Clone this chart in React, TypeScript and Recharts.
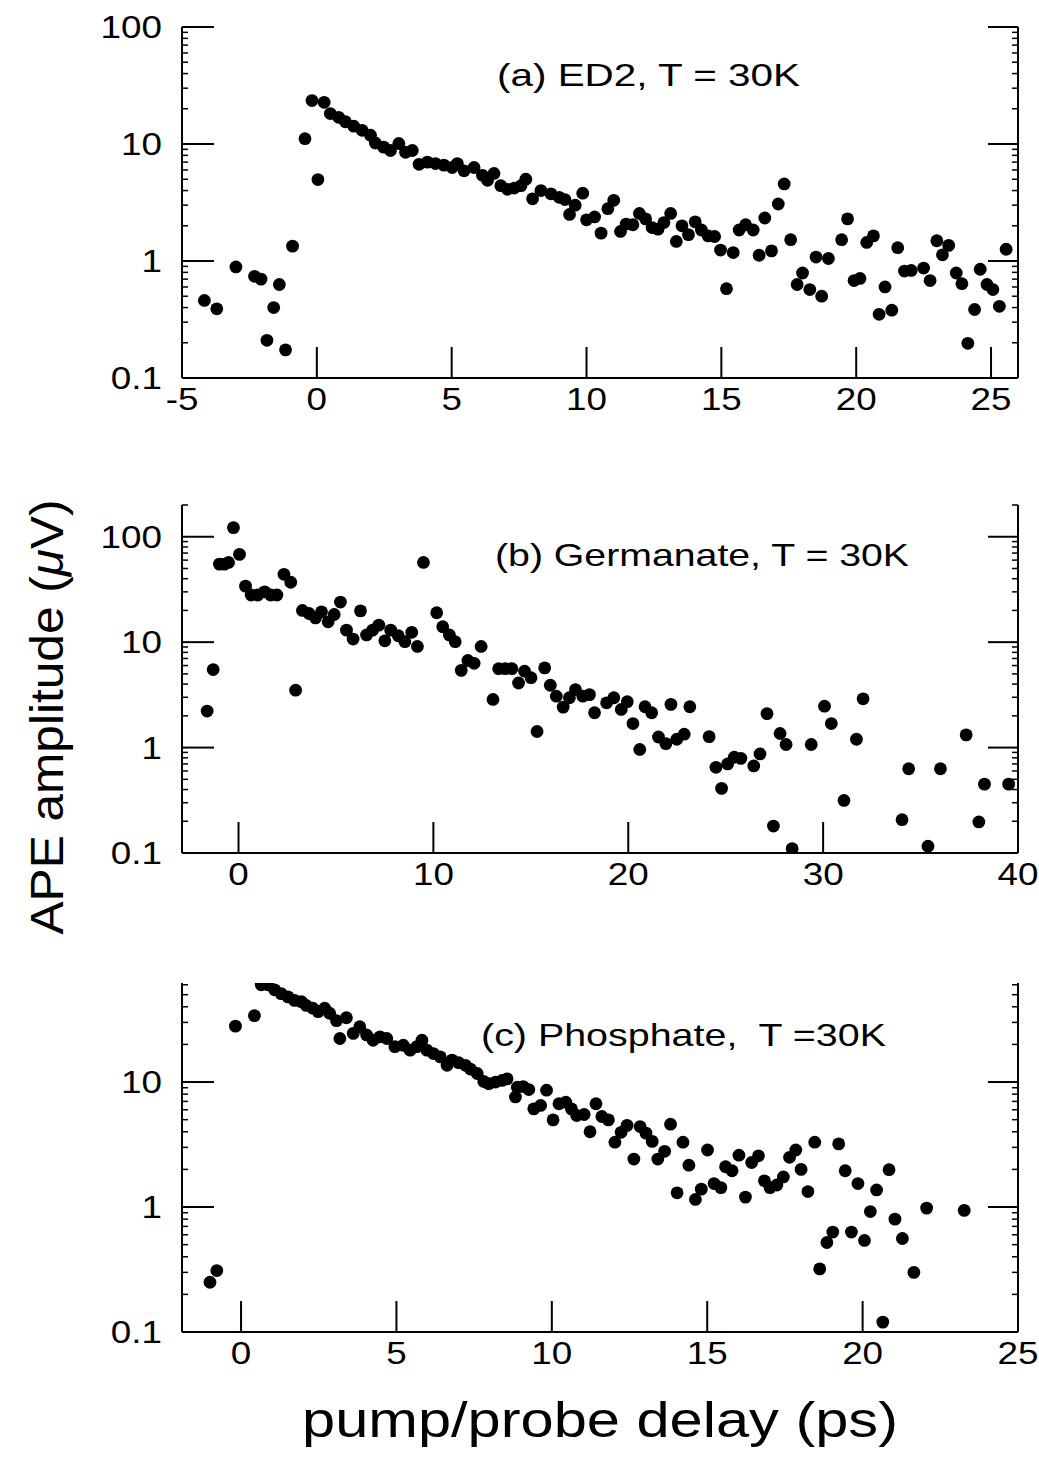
import { Scatter, ScatterChart, XAxis, YAxis } from "recharts";

// (a) ED2, T = 30K
const ed2Delay = [
  -4.17, -3.71, -3.0, -2.31, -2.07, -1.85, -1.6, -1.39, -1.16, -0.9, -0.44, -0.18, 0.04, 0.27,
  0.5, 0.81, 1.06, 1.37, 1.68, 1.99, 2.17, 2.48, 2.73, 3.04, 3.29, 3.54, 3.79, 4.1, 4.4, 4.71,
  5.02, 5.21, 5.46, 5.83, 6.14, 6.33, 6.57, 6.82, 7.07, 7.32, 7.57, 7.75, 8.0, 8.31, 8.68, 8.99,
  9.2, 9.37, 9.58, 9.86, 10.0, 10.3, 10.54, 10.79, 11.01, 11.26, 11.47, 11.72, 11.96, 12.19,
  12.43, 12.65, 12.87, 13.12, 13.33, 13.54, 13.78, 14.03, 14.26, 14.51, 14.75, 14.97, 15.19,
  15.44, 15.66, 15.9, 16.18, 16.4, 16.61, 16.86, 17.11, 17.33, 17.57, 17.81, 18.01, 18.28,
  18.51, 18.72, 18.97, 19.46, 19.68, 19.92, 20.14, 20.39, 20.64, 20.85, 21.07, 21.32, 21.54,
  21.79, 22.04, 22.5, 22.74, 22.99, 23.2, 23.43, 23.71, 23.92, 24.14, 24.39, 24.6, 24.85, 25.07,
  25.31, 25.56,
];
const ed2Amp = [
  0.46, 0.39, 0.89, 0.74, 0.7, 0.21, 0.4, 0.63, 0.174, 1.34, 11.1, 23.5, 4.97, 22.7,
  18.2, 16.9, 15.5, 14.2, 13.1, 11.9, 10.2, 9.4, 8.8, 10.1, 8.5, 8.8, 6.7, 7.0, 6.8, 6.6,
  6.3, 6.8, 5.9, 6.3, 5.4, 4.9, 5.6, 4.4, 4.1, 4.2, 4.4, 5.0, 3.4, 4.0, 3.75, 3.5,
  3.35, 2.5, 3.0, 3.8, 2.25, 2.38, 1.73, 2.8, 3.3, 1.79, 2.07, 2.04, 2.55, 2.29,
  1.93, 1.87, 2.13, 2.55, 1.47, 2.0, 1.68, 2.16, 1.84, 1.64, 1.62, 1.24, 0.58,
  1.18, 1.84, 2.04, 1.84, 1.12, 2.33, 1.22, 3.07, 4.56, 1.52, 0.63, 0.79, 0.57,
  1.08, 0.5, 1.05, 1.52, 2.29, 0.68, 0.71, 1.44, 1.64, 0.35, 0.6, 0.38, 1.3,
  0.82, 0.83, 0.87, 0.68, 1.49, 1.13, 1.36, 0.79, 0.64, 0.198, 0.385, 0.85, 0.63, 0.57,
  0.41, 1.26,
];

// (b) Germanate, T = 30K
const gerDelay = [
  -1.61, -1.3, -0.98, -0.72, -0.51, -0.26, 0.05, 0.36, 0.65, 0.99, 1.34, 1.65, 1.97, 2.33, 2.68,
  2.93, 3.28, 3.62, 3.95, 4.26, 4.6, 4.91, 5.23, 5.54, 5.88, 6.26, 6.57, 6.88, 7.2, 7.51, 7.81,
  8.2, 8.54, 8.89, 9.18, 9.49, 10.17, 10.48, 10.82, 11.12, 11.43, 11.77, 12.09, 12.45, 13.06,
  13.35, 13.69, 14.03, 14.37, 14.68, 15.01, 15.32, 15.71, 16.0, 16.31, 16.66, 16.98, 17.29,
  17.67, 18.01, 18.27, 18.89, 19.26, 19.64, 19.95, 20.24, 20.59, 20.86, 21.2, 21.55, 21.93,
  22.19, 22.49, 22.87, 23.16, 24.15, 24.5, 24.79, 25.1, 25.44, 25.78, 26.44, 26.76, 27.12,
  27.45, 27.79, 28.1, 28.41, 29.39, 30.07, 30.42, 31.07, 31.71, 32.05, 34.05, 34.39, 35.38,
  36.02, 37.34, 37.99, 38.28, 39.52,
];
const gerAmp = [
  2.22, 5.5, 55, 55, 57, 122, 68, 34, 28, 28, 30, 28, 28, 44, 37,
  3.5, 20, 18.7, 17, 19.4, 15.6, 18.3, 24, 13, 10.7, 19.8, 11.7, 13, 14.5, 10.3, 13,
  11.5, 10.1, 12.4, 9.1, 57, 19, 14, 11.7, 10.1, 5.4, 6.7, 6.3, 9.1, 2.86,
  5.6, 5.6, 5.6, 4.1, 5.3, 4.6, 1.42, 5.7, 3.9, 3.07, 2.42, 2.97, 3.55,
  3.07, 3.18, 2.14, 2.66, 2.97, 2.3, 2.72, 1.69, 0.96, 2.44, 2.14, 1.26, 1.09,
  2.57, 1.2, 1.34, 2.44, 1.27, 0.65, 0.41, 0.7, 0.81, 0.79, 0.67, 0.87, 2.1,
  0.18, 1.36, 1.07, 0.11, 1.07, 2.47, 1.69, 0.315, 1.2, 2.9, 0.207, 0.63, 0.116,
  0.63, 1.32, 0.197, 0.45, 0.45,
];

// (c) Phosphate, T = 30K
const phoDelay = [
  -1.0, -0.78, -0.18, 0.43, 0.65, 0.86, 1.08, 1.29, 1.51, 1.72, 1.94, 2.1, 2.31, 2.48, 2.69,
  2.85, 3.07, 3.18, 3.39, 3.61, 3.82, 4.04, 4.25, 4.47, 4.69, 4.95, 5.22, 5.44, 5.66, 5.82,
  5.98, 6.19, 6.41, 6.63, 6.79, 7.0, 7.22, 7.38, 7.6, 7.81, 7.97, 8.19, 8.4, 8.56, 8.83, 8.89,
  9.08, 9.26, 9.42, 9.64, 9.83, 10.04, 10.23, 10.45, 10.63, 10.8, 11.04, 11.23, 11.42, 11.61,
  11.82, 12.03, 12.23, 12.42, 12.64, 12.84, 13.03, 13.23, 13.41, 13.63, 13.82, 14.03, 14.22,
  14.41, 14.62, 14.81, 15.01, 15.22, 15.44, 15.59, 15.8, 16.02, 16.23, 16.43, 16.65, 16.84,
  17.02, 17.24, 17.45, 17.65, 17.85, 18.02, 18.24, 18.46, 18.62, 18.85, 19.04, 19.23, 19.44,
  19.64, 19.85, 20.06, 20.25, 20.45, 20.65, 20.85, 21.04, 21.28, 21.65, 22.06, 23.27,
];
const phoAmp = [
  0.25, 0.31, 28, 34, 60, 60, 54.7, 51, 48, 45, 44, 41, 39, 36.6, 39,
  35.5, 31, 22.3, 32.7, 24.5, 27.7, 23.8, 21.6, 23, 22.3, 19.2, 19.7, 18, 19.2, 21.6,
  18, 16.9, 15.9, 13.6, 15, 14.3, 13.6, 12.7, 11.7, 10.1, 9.7, 10, 10.3, 10.6, 7.6, 9.1,
  9.2, 8.7, 6.1, 6.5, 8.6, 4.98, 6.7, 6.9, 6.1, 5.4, 5.5, 4.0, 6.7, 5.3,
  4.98, 3.3, 3.96, 4.5, 2.42, 4.4, 3.9, 3.35, 2.42, 2.79, 4.6, 1.3, 3.3,
  2.16, 1.15, 1.39, 2.86, 1.54, 1.43, 2.1, 1.95, 2.6, 1.2, 2.27, 2.57, 1.62,
  1.43, 1.5, 1.74, 2.5, 2.86, 2.0, 1.33, 3.3, 0.32, 0.52, 0.63, 3.2, 1.95,
  0.63, 1.54, 0.54, 0.92, 1.37, 0.12, 1.99, 0.8, 0.56, 0.3, 0.98, 0.94,
];

const ed2Ticks = [-5, 0, 5, 10, 15, 20, 25];
const gerTicks = [0, 10, 20, 30, 40];
const phoTicks = [0, 5, 10, 15, 20, 25];

const logTicksA = [
  0.1, 0.2, 0.3, 0.4, 0.5, 0.6, 0.7, 0.8, 0.9, 1, 2, 3, 4, 5, 6, 7, 8, 9, 10, 20, 30, 40, 50, 60,
  70, 80, 90, 100,
];
const logTicksB = [...logTicksA, 200];
const logTicksC = [
  0.1, 0.2, 0.3, 0.4, 0.5, 0.6, 0.7, 0.8, 0.9, 1, 2, 3, 4, 5, 6, 7, 8, 9, 10, 20, 30, 40, 50, 60,
];

const FONT = "'Liberation Sans', Arial, Helvetica, sans-serif";
const W = 1039;
const LEFT = 182;
const RIGHT = 1018;
const PAD_TOP = 20;
const AXIS_H = 60;

const isDecade = (v: number) => Math.abs(Math.log10(v) - Math.round(Math.log10(v))) < 1e-6;

const bottomTick = (p: any) => (
  <g>
    <line x1={p.x} x2={p.x} y1={p.y} y2={p.y - 31} stroke="#000" strokeWidth={2} />
    <text
      transform={`translate(${p.x},${p.y + 32}) scale(1.15,1)`}
      textAnchor="middle"
      fontSize={32}
      fontFamily={FONT}
      fill="#000"
    >
      {p.payload.value}
    </text>
  </g>
);

const leftTick = (p: any) => {
  const major = isDecade(p.payload.value);
  return (
    <g>
      <line x1={p.x} x2={p.x + (major ? 32 : 6)} y1={p.y} y2={p.y} stroke="#000" strokeWidth={major ? 2 : 1.5} />
      {major && (
        <text
          transform={`translate(${p.x - 20},${p.y + 11}) scale(1.15,1)`}
          textAnchor="end"
          fontSize={32}
          fontFamily={FONT}
          fill="#000"
        >
          {String(p.payload.value)}
        </text>
      )}
    </g>
  );
};

const rightTick = (p: any) => {
  const major = isDecade(p.payload.value);
  return (
    <line x1={p.x} x2={p.x - (major ? 30 : 6)} y1={p.y} y2={p.y} stroke="#000" strokeWidth={major ? 2 : 1.5} />
  );
};

const dot = (p: any) => <circle cx={p.cx} cy={p.cy} r={6.4} fill="#000" />;

type PanelProps = {
  xs: number[];
  ys: number[];
  plotTop: number;
  plotBottom: number;
  xDomain: [number, number];
  yDomain: [number, number];
  xTicks: number[];
  yTicks: number[];
};

const Panel = ({ xs, ys, plotTop, plotBottom, xDomain, yDomain, xTicks, yTicks }: PanelProps) => {
  const data = xs.map((x, i) => ({ x, y: ys[i] }));
  const h = PAD_TOP + (plotBottom - plotTop) + AXIS_H;
  const frame = { stroke: "#000", strokeWidth: 2 };
  return (
    <div style={{ position: "absolute", left: 0, top: plotTop - PAD_TOP }}>
      <ScatterChart width={W} height={h} margin={{ top: PAD_TOP, right: 0, bottom: 0, left: 0 }}>
        <XAxis
          xAxisId="b"
          dataKey="x"
          type="number"
          domain={xDomain}
          ticks={xTicks}
          interval={0}
          allowDataOverflow
          height={AXIS_H}
          tickSize={0}
          tickMargin={0}
          tickLine={false}
          axisLine={frame}
          tick={bottomTick}
        />
        <XAxis
          xAxisId="t"
          orientation="top"
          type="number"
          domain={xDomain}
          allowDataOverflow
          height={0}
          tick={false}
          tickLine={false}
          axisLine={frame}
        />
        <YAxis
          yAxisId="l"
          dataKey="y"
          type="number"
          scale="log"
          domain={yDomain}
          ticks={yTicks}
          interval={0}
          allowDataOverflow
          width={LEFT}
          tickSize={0}
          tickMargin={0}
          tickLine={false}
          axisLine={frame}
          tick={leftTick}
        />
        <YAxis
          yAxisId="r"
          orientation="right"
          type="number"
          scale="log"
          domain={yDomain}
          ticks={yTicks}
          interval={0}
          allowDataOverflow
          width={W - RIGHT}
          tickSize={0}
          tickMargin={0}
          tickLine={false}
          axisLine={frame}
          tick={rightTick}
        />
        <Scatter xAxisId="b" yAxisId="l" data={data} isAnimationActive={false} shape={dot} />
      </ScatterChart>
    </div>
  );
};

const PanelTitle = ({ x, y, width, children }: { x: number; y: number; width: number; children: string }) => (
  <text
    x={x}
    y={y}
    fontSize={32}
    fontFamily={FONT}
    textLength={width}
    lengthAdjust="spacingAndGlyphs"
    fill="#000"
    style={{ whiteSpace: "pre" }}
  >
    {children}
  </text>
);

const App = () => {
  return (
    <div style={{ position: "absolute", left: 0, top: 0, width: W, height: 1473, background: "#fff" }}>
      <Panel
        xs={ed2Delay}
        ys={ed2Amp}
        plotTop={27}
        plotBottom={378}
        xDomain={[-5, 26]}
        yDomain={[0.1, 100]}
        xTicks={ed2Ticks}
        yTicks={logTicksA}
      />
      <Panel
        xs={gerDelay}
        ys={gerAmp}
        plotTop={505}
        plotBottom={853}
        xDomain={[-2.9, 40]}
        yDomain={[0.1, 200]}
        xTicks={gerTicks}
        yTicks={logTicksB}
      />
      <Panel
        xs={phoDelay}
        ys={phoAmp}
        plotTop={983}
        plotBottom={1332}
        xDomain={[-1.9, 25]}
        yDomain={[0.1, 62]}
        xTicks={phoTicks}
        yTicks={logTicksC}
      />
      <svg
        width={W}
        height={1473}
        style={{ position: "absolute", left: 0, top: 0, pointerEvents: "none" }}
      >
        <PanelTitle x={497} y={86} width={303}>
          (a) ED2, T = 30K
        </PanelTitle>
        <PanelTitle x={495} y={566} width={414}>
          (b) Germanate, T = 30K
        </PanelTitle>
        <PanelTitle x={481} y={1046} width={405}>
          (c) Phosphate,  T =30K
        </PanelTitle>
        <text
          transform="translate(63,717) rotate(-90)"
          textAnchor="middle"
          fontSize={46}
          fontFamily={FONT}
          textLength={435}
          lengthAdjust="spacingAndGlyphs"
          fill="#000"
        >
          APE amplitude (<tspan fontStyle="italic">μ</tspan>V)
        </text>
        <text
          x={600}
          y={1437}
          textAnchor="middle"
          fontSize={50}
          fontFamily={FONT}
          textLength={596}
          lengthAdjust="spacingAndGlyphs"
          fill="#000"
        >
          pump/probe delay (ps)
        </text>
      </svg>
    </div>
  );
};

export default App;
